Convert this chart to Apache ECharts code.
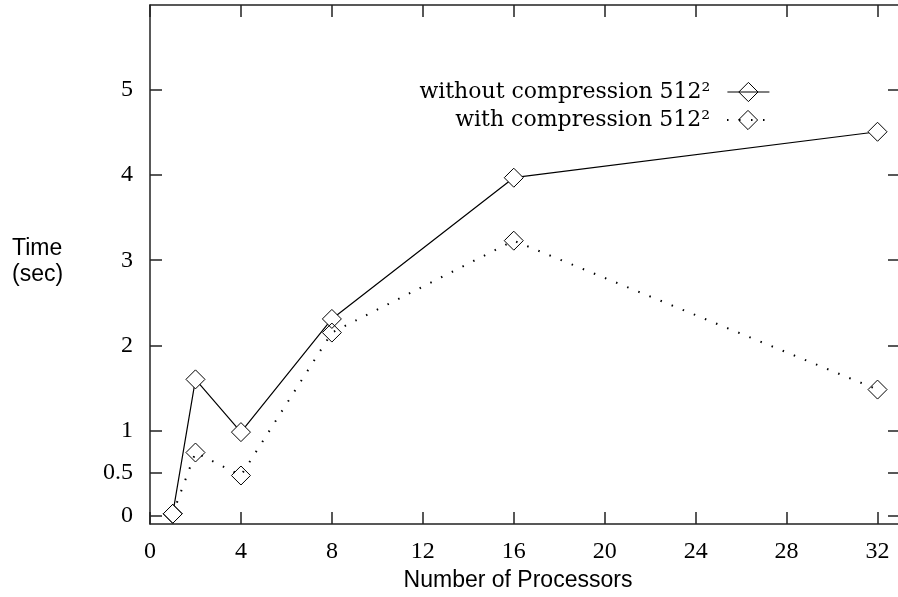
<!DOCTYPE html>
<html><head><meta charset="utf-8">
<script src="https://cdn.jsdelivr.net/npm/echarts@6/dist/echarts.min.js"></script>
<style>html,body{margin:0;padding:0;background:#fff}#c{width:898px;height:597px}</style>
</head><body><div id="c"></div>
<script>
const processors = [1, 2, 4, 8, 16, 32];
const withoutCompression = [0.02, 1.6, 0.98, 2.31, 3.97, 4.51];
const withCompression = [0.02, 0.74, 0.47, 2.15, 3.23, 1.48];
const xTicks = [0, 4, 8, 12, 16, 20, 24, 28, 32];
const yTicks = [0, 0.5, 1, 2, 3, 4, 5];
const seriesNames = ['without compression 512\u00B2', 'with compression 512\u00B2'];

const serif = '"Liberation Serif", "DejaVu Serif", serif';
const legendSerif = '"DejaVu Serif", "Liberation Serif", serif';
const sans = '"Liberation Sans", "DejaVu Sans", sans-serif';
const axisColor = '#222';

const chart = echarts.init(document.getElementById('c'), null, {renderer: 'canvas'});
function xAxisCfg(pos, showLabel) {
  return {
    type: 'value', position: pos, min: 0, max: 32.9,
    axisLine: {show: true, onZero: false, lineStyle: {color: axisColor, width: 1.5}},
    axisTick: {show: true, inside: true, length: 12, customValues: xTicks, lineStyle: {color: axisColor, width: 1.5}},
    axisLabel: {show: showLabel, customValues: xTicks, margin: 16, color: '#000', fontFamily: serif, fontSize: 24},
    splitLine: {show: false}
  };
}
function yAxisCfg(pos, showLabel) {
  return {
    type: 'value', position: pos, min: -0.1, max: 6,
    axisLine: {show: showLabel, onZero: false, lineStyle: {color: axisColor, width: 1.5}},
    axisTick: {show: true, inside: true, length: showLabel ? 12 : 10, customValues: yTicks, lineStyle: {color: axisColor, width: 1.5}},
    axisLabel: {show: showLabel, customValues: yTicks, margin: 17, color: '#000', fontFamily: serif, fontSize: 24},
    splitLine: {show: false}
  };
}
const legendText = {fontFamily: legendSerif, fontSize: 22, color: '#000', padding: [0, 12, 0, 0]};
const legendItemStyle = {color: 'rgba(255,255,255,0)', borderColor: '#000', borderWidth: 1};
const option = {
  animation: false,
  backgroundColor: '#fff',
  grid: {left: 150, top: 5, width: 748, height: 519, containLabel: false},
  xAxis: [xAxisCfg('bottom', true), xAxisCfg('top', false)],
  yAxis: [yAxisCfg('left', true), yAxisCfg('right', false)],
  legend: [
    {data: [seriesNames[0]], right: 123, top: 76, align: 'right', itemWidth: 42, itemHeight: 24, itemGap: 0,
     textStyle: legendText, itemStyle: legendItemStyle, lineStyle: {width: 1.2}},
    {data: [seriesNames[1]], right: 123, top: 104, align: 'right', itemWidth: 42, itemHeight: 24, itemGap: 0,
     textStyle: legendText, itemStyle: legendItemStyle, lineStyle: {width: 2}}
  ],
  graphic: [
    {type: 'text', left: 12, top: 236, style: {text: 'Time\n(sec)', fontFamily: sans, fontSize: 23, lineHeight: 26, fill: '#000'}},
    {type: 'text', x: 518, y: 569, style: {text: 'Number of Processors', align: 'center', fontFamily: sans, fontSize: 23, fill: '#000'}}
  ],
  series: [
    {
      name: seriesNames[0], type: 'line',
      data: processors.map((p, i) => [p, withoutCompression[i]]),
      symbol: 'diamond', symbolSize: [19, 19], showAllSymbol: true,
      itemStyle: {color: '#fff', borderColor: '#000', borderWidth: 1},
      lineStyle: {color: '#000', width: 1.2, type: 'solid'}
    },
    {
      name: seriesNames[1], type: 'line',
      data: processors.map((p, i) => [p, withCompression[i]]),
      symbol: 'diamond', symbolSize: [19, 19], showAllSymbol: true,
      itemStyle: {color: 'rgba(255,255,255,0)', borderColor: '#000', borderWidth: 1},
      lineStyle: {color: '#000', width: 2, type: [1.5, 10.5]}
    }
  ]
};
chart.setOption(option);
</script></body></html>
